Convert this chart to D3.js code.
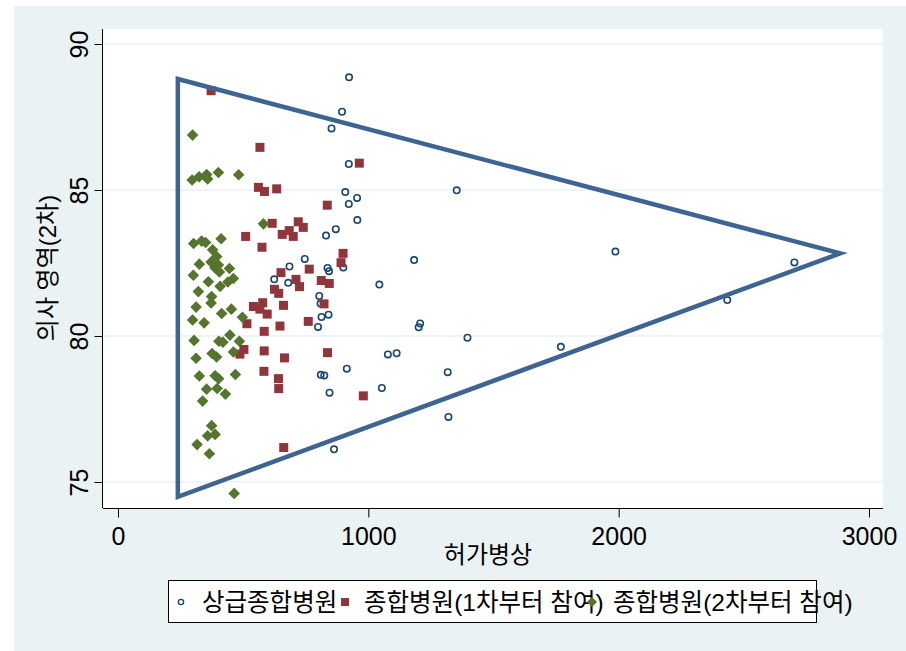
<!DOCTYPE html>
<html>
<head>
<meta charset="utf-8">
<script src="https://cdn.jsdelivr.net/npm/d3@7"></script>
<style>
  html, body { margin: 0; padding: 0; background: #ffffff; }
  svg { display: block; }
  text { font-family: "Liberation Sans", "Noto Sans CJK KR", sans-serif; fill: #000; }
</style>
</head>
<body>
<svg id="chart" width="906" height="651"></svg>
<script>
// 상급종합병원: [허가병상, 의사 영역(2차)]
const tertiary = [
  [923, 88.86], [895, 87.68], [853, 87.11], [922, 85.89], [1353, 84.99],
  [908, 84.93], [955, 84.73], [922, 84.52], [956, 83.97], [870, 83.66],
  [831, 83.44], [746, 82.64], [1183, 82.60], [837, 82.33], [843, 82.22],
  [900, 82.35], [1044, 81.76], [804, 81.37], [809, 81.11], [813, 80.65],
  [841, 80.73], [799, 80.31], [1207, 80.43], [1201, 80.30], [1396, 79.94],
  [1078, 79.37], [1113, 79.41], [914, 78.88], [810, 78.67], [824, 78.65],
  [1317, 78.76], [845, 78.06], [1054, 78.22], [1320, 77.23], [863, 76.12],
  [685, 82.38], [624, 81.94], [680, 81.82], [1987, 82.89], [2702, 82.52],
  [2434, 81.23], [1769, 79.63]
];

// 종합병원(1차부터 참여)
const generalFirst = [
  [372, 88.40], [567, 86.46], [964, 85.92], [561, 85.09], [585, 84.95],
  [634, 85.04], [836, 84.48], [616, 83.86], [720, 83.91], [740, 83.72],
  [684, 83.61], [656, 83.48], [700, 83.41], [510, 83.41], [575, 83.04],
  [899, 82.83], [891, 82.51], [651, 82.17], [764, 82.29], [711, 81.94],
  [725, 81.69], [625, 81.60], [642, 81.46], [812, 81.90], [844, 81.80],
  [823, 81.10], [541, 81.01], [578, 81.14], [567, 80.92], [596, 80.75],
  [661, 81.05], [515, 80.42], [647, 80.34], [760, 80.50], [584, 80.16],
  [503, 79.54], [487, 79.38], [584, 79.49], [665, 79.25], [837, 79.43],
  [583, 78.79], [641, 78.54], [642, 78.20], [980, 77.95], [662, 76.18]
];

// 종합병원(2차부터 참여)
const generalSecond = [
  [298, 86.88], [296, 85.34], [324, 85.45], [354, 85.53], [358, 85.38],
  [401, 85.60], [482, 85.52], [581, 83.84], [302, 83.17], [334, 83.25],
  [350, 83.20], [412, 83.33], [378, 82.95], [394, 82.72], [372, 82.53],
  [325, 82.46], [401, 82.43], [445, 82.31], [388, 82.33], [301, 82.08],
  [405, 82.19], [361, 81.86], [461, 81.97], [439, 81.85], [408, 81.70],
  [321, 81.52], [374, 81.35], [372, 81.13], [312, 80.99], [414, 80.77],
  [453, 80.92], [497, 80.64], [298, 80.55], [344, 80.45], [304, 79.85],
  [403, 79.82], [419, 79.79], [447, 80.03], [485, 79.82], [461, 79.45],
  [312, 79.24], [376, 79.40], [394, 79.28], [325, 78.63], [388, 78.64],
  [402, 78.54], [469, 78.68], [354, 78.18], [396, 78.20], [429, 78.01],
  [338, 77.77], [374, 76.93], [358, 76.58], [388, 76.63], [316, 76.28],
  [365, 75.97], [464, 74.61]
];

// Outline drawn over the scatter (closed)
const outline = [[239, 88.80], [239, 74.49], [2885, 82.83]];

const xTicks = [0, 1000, 2000, 3000];
const yTicks = [75, 80, 85, 90];
const xTitle = "허가병상";
const yTitle = "의사 영역(2차)";
const legendLabels = ["상급종합병원", "종합병원(1차부터 참여)", "종합병원(2차부터 참여)"];

const colors = { navy: "#1a476f", maroon: "#90353b", green: "#55752f", outline: "#3e6492",
                 region: "#eaf2f3", grid: "#eaf2f3" };

const numFont = "Liberation Sans Narrow, Liberation Sans, sans-serif";

const svg = d3.select("#chart");

// plot region bounds
const plot = { left: 103, right: 883, top: 29, bottom: 508 };

const x = d3.scaleLinear().domain([0, 3000]).range([118, 869]);
const y = d3.scaleLinear().domain([75, 90]).range([482, 44]);

// graph region background
svg.append("rect").attr("x", 14).attr("y", 6).attr("width", 892).attr("height", 645)
  .attr("fill", colors.region);

// plot region
svg.append("rect").attr("x", plot.left).attr("y", plot.top)
  .attr("width", plot.right - plot.left).attr("height", plot.bottom - plot.top)
  .attr("fill", "#ffffff");

// horizontal grid lines
svg.append("g").selectAll("line").data(yTicks).join("line")
  .attr("x1", plot.left).attr("x2", plot.right)
  .attr("y1", d => y(d)).attr("y2", d => y(d))
  .attr("stroke", colors.grid).attr("stroke-width", 1.5);

// x axis
const xAxis = svg.append("g").attr("transform", `translate(0,${plot.bottom + 0.5})`)
  .call(d3.axisBottom(x).tickValues(xTicks).tickFormat(d3.format("d")).tickSize(9).tickPadding(0));
xAxis.select(".domain").attr("d", `M${plot.left},0H${plot.right}`).attr("stroke", "#000");
xAxis.selectAll(".tick line").attr("stroke", "#000");
xAxis.selectAll(".tick text").attr("dy", null).attr("y", 36)
  .attr("font-size", 25).attr("fill", "#000").attr("font-family", numFont);

// y axis with rotated labels
const yAxis = svg.append("g").attr("transform", `translate(${plot.left - 0.5},0)`)
  .call(d3.axisLeft(y).tickValues(yTicks).tickFormat(d3.format("d")).tickSize(8).tickPadding(0));
yAxis.select(".domain").attr("d", `M0,${plot.top}V${plot.bottom}`).attr("stroke", "#000");
yAxis.selectAll(".tick line").attr("stroke", "#000");
yAxis.selectAll(".tick text")
  .attr("x", null).attr("dy", null)
  .attr("transform", "translate(-15,0) rotate(-90)")
  .attr("text-anchor", "middle")
  .attr("font-size", 25).attr("fill", "#000").attr("font-family", numFont);

// axis titles
svg.append("text").attr("x", 488).attr("y", 563)
  .attr("text-anchor", "middle").attr("font-size", 24).text(xTitle);
svg.append("text").attr("transform", "translate(56,268) rotate(-90)")
  .attr("text-anchor", "middle").attr("font-size", 24).text(yTitle);

// marker shapes
const squarePath = s => `M${-s / 2},${-s / 2}h${s}v${s}h${-s}Z`;
const diamondPath = r => `M0,${-r}L${r},0L0,${r}L${-r},0Z`;

const marks = svg.append("g");

marks.append("g").selectAll("circle").data(tertiary).join("circle")
  .attr("cx", d => x(d[0])).attr("cy", d => y(d[1])).attr("r", 3.2)
  .attr("fill", "none").attr("stroke", colors.navy).attr("stroke-width", 1.6);

marks.append("g").selectAll("path").data(generalFirst).join("path")
  .attr("d", squarePath(9))
  .attr("transform", d => `translate(${x(d[0])},${y(d[1])})`)
  .attr("fill", colors.maroon);

marks.append("g").selectAll("path").data(generalSecond).join("path")
  .attr("d", diamondPath(5.8))
  .attr("transform", d => `translate(${x(d[0])},${y(d[1])})`)
  .attr("fill", colors.green);

// outline
svg.append("path")
  .attr("d", d3.line().x(d => x(d[0])).y(d => y(d[1]))(outline) + "Z")
  .attr("fill", "none").attr("stroke", colors.outline).attr("stroke-width", 4.5)
  .attr("stroke-linejoin", "miter");

// legend
const legend = svg.append("g");
legend.append("rect").attr("x", 168.5).attr("y", 580.5).attr("width", 648).attr("height", 42)
  .attr("fill", "#ffffff").attr("stroke", "#000").attr("stroke-width", 1);

const legendItems = [
  { key: 181, text: 202, shape: "circle", color: colors.navy },
  { key: 345, text: 364, shape: "square", color: colors.maroon },
  { key: 592, text: 613, shape: "diamond", color: colors.green }
];
legendItems.forEach((it, i) => {
  legend.append("text").attr("x", it.text).attr("y", 611).attr("font-size", 24.5)
    .text(legendLabels[i]);
});
legendItems.forEach(it => {
  if (it.shape === "circle") {
    legend.append("circle").attr("cx", it.key).attr("cy", 602).attr("r", 2.6)
      .attr("fill", "none").attr("stroke", it.color).attr("stroke-width", 1.4);
  } else if (it.shape === "square") {
    legend.append("path").attr("d", squarePath(8)).attr("transform", `translate(${it.key},602)`)
      .attr("fill", it.color);
  } else {
    legend.append("path").attr("d", diamondPath(5)).attr("transform", `translate(${it.key},602)`)
      .attr("fill", it.color);
  }
});
</script>
</body>
</html>
